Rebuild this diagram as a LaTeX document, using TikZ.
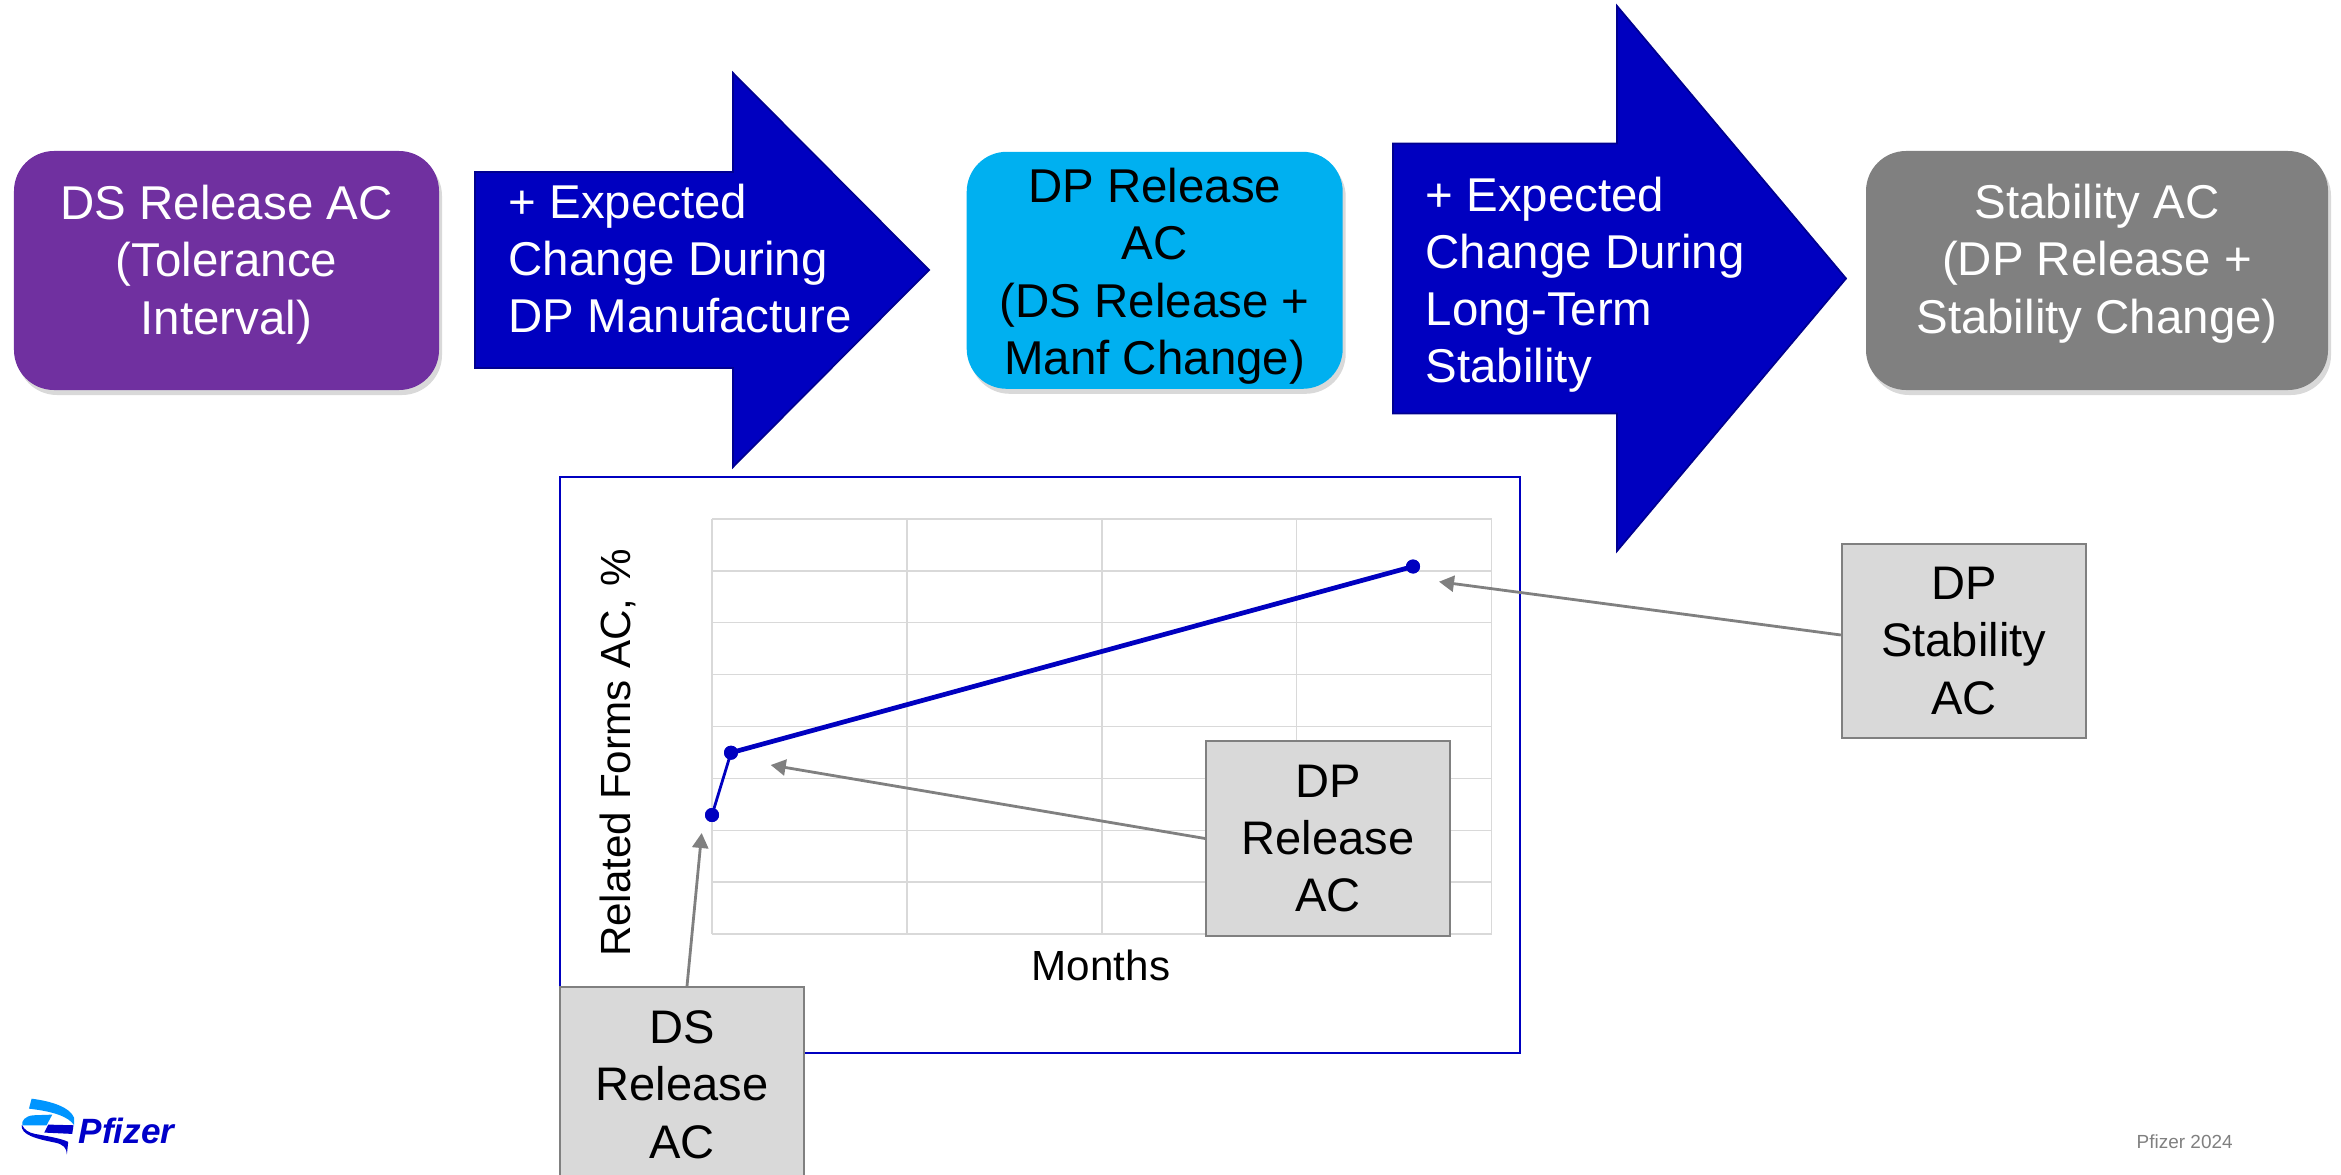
\documentclass[tikz,border=0pt]{standalone}
\usepackage{fontspec}
\setmainfont{Liberation Sans}
\usetikzlibrary{arrows.meta,calc,shadows}

\definecolor{dsviolet}{HTML}{7030A0}
\definecolor{arrowblue}{HTML}{0000C0}
\definecolor{arrowedge}{HTML}{000090}
\definecolor{dpcyan}{HTML}{00B0F0}
\definecolor{stabgray}{HTML}{808080}
\definecolor{calloutfill}{HTML}{D9D9D9}
\definecolor{gridgray}{HTML}{D9D9D9}
\definecolor{pfzdark}{HTML}{0000C9}
\definecolor{pfzlight}{HTML}{0095FF}

\tikzset{
  acbox/.style={rounded corners=0.4cm, inner sep=0pt,
    drop shadow={shadow xshift=0.03cm, shadow yshift=-0.05cm, opacity=0.3}},
  boxtext/.style={inner sep=0pt, align=center, text=white,
    font=\fontsize{13.5}{16.3}\selectfont},
  bigarrow/.style={fill=arrowblue, draw=arrowedge, line width=0.5pt},
  arrowtext/.style={anchor=north west, inner sep=0pt, align=left, text=white,
    font=\fontsize{13.5}{16.3}\selectfont},
  calloutbox/.style={draw=stabgray, fill=calloutfill, line width=0.5pt, inner sep=0pt,
    minimum width=2.44cm, minimum height=1.95cm, align=center,
    font=\fontsize{13.4}{16.3}\selectfont},
  callout/.style={draw=stabgray, line width=0.8pt, -{Triangle[length=1.5mm,width=1.6mm]}},
  gridline/.style={draw=gridgray, line width=0.4pt},
  datapt/.style={circle, fill=arrowblue, inner sep=0pt, minimum size=0.14cm},
}

\begin{document}
\begin{tikzpicture}
  \useasboundingbox (0,0) rectangle (23.41,-11.75);

  % top row: acceptance criteria boxes and change arrows
  \node[acbox, fill=dsviolet, minimum width=4.25cm, minimum height=2.39cm] (dsrel) at (2.265,-2.705) {};
  \node[boxtext] (dsreltext) at ([yshift=0.06cm]dsrel.center) {DS Release AC\\(Tolerance\\Interval)};
  \fill[bigarrow] (4.75,-1.72) -- (7.33,-1.72) -- (7.33,-0.73) -- (9.29,-2.70)
    -- (7.33,-4.67) -- (7.33,-3.68) -- (4.75,-3.68) -- cycle;
  \node[arrowtext] (manftext) at (5.08,-1.83) {+ Expected\\Change During\\DP Manufacture};
  \node[acbox, fill=dpcyan, minimum width=3.76cm, minimum height=2.37cm] (dprel) at (11.547,-2.703) {};
  \node[boxtext, text=black] (dpreltext) at ([yshift=-0.06cm]dprel.center) {DP Release\\AC\\(DS Release +\\Manf Change)};
  \fill[bigarrow] (13.93,-1.435) -- (16.17,-1.435) -- (16.17,-0.06) -- (18.46,-2.785)
    -- (16.17,-5.51) -- (16.17,-4.135) -- (13.93,-4.135) -- cycle;
  \node[arrowtext] (stabtext) at (14.25,-1.76) {+ Expected\\Change During\\Long-Term\\Stability};
  \node[acbox, fill=stabgray, minimum width=4.62cm, minimum height=2.39cm] (stabac) at (20.97,-2.705) {};
  \node[boxtext] (stabactext) at ([yshift=0.07cm]stabac.center) {Stability AC\\(DP Release +\\Stability Change)};

  % chart
  \draw[arrowblue, line width=0.55pt] (5.60,-4.77) rectangle (15.20,-10.53);
  \foreach \i in {0,...,4}
    \draw[gridline] (7.12+1.949*\i,-5.19) -- (7.12+1.949*\i,-9.34);
  \foreach \j in {0,...,8}
    \draw[gridline] (7.12,-5.19-0.51875*\j) -- (14.915,-5.19-0.51875*\j);
  \node[rotate=90, font=\fontsize{12}{14}\selectfont] (ylab) at (6.18,-7.53) {Related Forms AC, \%};
  \node[anchor=base, font=\fontsize{12}{14}\selectfont] (xlab) at (11.01,-9.80) {Months};

  \node[datapt] (p0) at (7.12,-8.15) {};
  \node[datapt] (p1) at (7.31,-7.527) {};
  \node[datapt] (p2) at (14.13,-5.665) {};
  \draw[arrowblue, line width=0.8pt] (p0.center) -- (p1.center);
  \draw[arrowblue, line width=1.35pt] (p1.center) -- (p2.center);
  \node[datapt] at (p0) {};
  \node[datapt] at (p1) {};
  \node[datapt] at (p2) {};

  % callouts
  \node[calloutbox] (dsbox) at (6.82,-10.845) {DS\\Release\\AC};
  \node[calloutbox] (dpbox) at (13.28,-8.385) {DP\\Release\\AC};
  \node[calloutbox, minimum height=1.94cm] (stabbox) at (19.637,-6.41) {DP\\Stability\\AC};
  \coordinate (dstip) at (7.017,-8.33);
  \coordinate (dptip) at (7.707,-7.65);
  \coordinate (stabtip) at (14.39,-5.817);
  \draw[callout] ([xshift=0.05cm]dsbox.north) -- (dstip);
  \draw[callout] (dpbox.west) -- (dptip);
  \draw[callout] ([yshift=0.06cm]stabbox.west) -- (stabtip);

  % logo and footer
  \begin{scope}[shift={(0.15,-10.92)}, x=0.00333cm, y=-0.00333cm]
    \fill[pfzlight] (50,20) .. controls (110,28) and (165,45) .. (178,78) -- (178,100)
      .. controls (160,72) and (110,58) .. (42,50) -- cycle;
    \fill[pfzlight] (112,68) -- (55,70) .. controls (30,72) and (18,88) .. (22,100)
      -- (95,100) -- cycle;
    \fill[pfzdark] (100,98) -- (176,100) -- (172,126) -- (88,122) -- cycle;
    \fill[pfzdark] (20,100) .. controls (18,128) and (60,140) .. (120,152)
      .. controls (145,157) and (156,168) .. (156,188) -- (160,150)
      .. controls (140,140) and (100,133) .. (60,126)
      .. controls (40,122) and (28,113) .. (22,100) -- cycle;
  \end{scope}
  \node[anchor=base west, inner sep=0pt, text=pfzdark, font=\fontsize{10}{12}\selectfont\bfseries\itshape] (logo) at (0.78,-11.43) {Pfizer};
  \node[anchor=base west, inner sep=0pt, text=stabgray, font=\fontsize{5.4}{6}\selectfont] (footer) at (21.36,-11.48) {Pfizer 2024};
\end{tikzpicture}
\end{document}
